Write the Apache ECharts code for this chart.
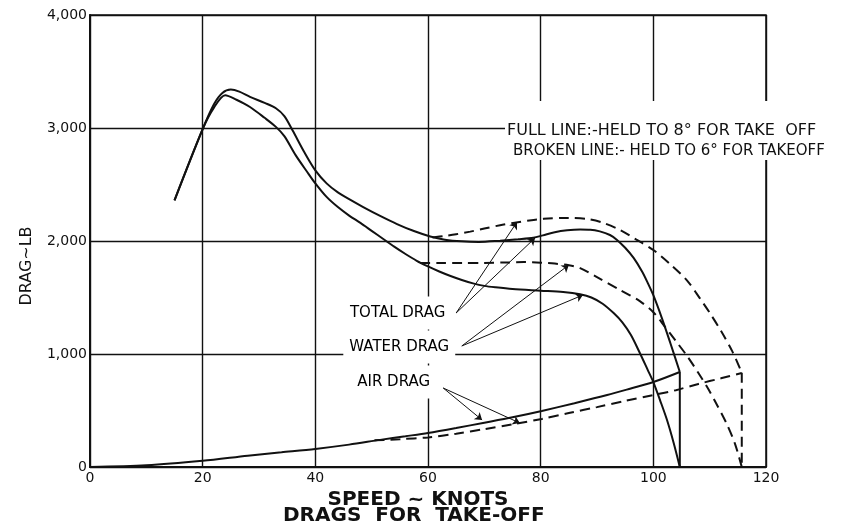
<!DOCTYPE html>
<html>
<head>
<meta charset="utf-8">
<script src="https://cdn.jsdelivr.net/npm/echarts@6/dist/echarts.min.js"></script>
<style>
html,body{margin:0;padding:0;background:#fff;}
#chart{width:857px;height:528px;}
</style>
</head>
<body>
<div id="chart"></div>
<script>
// ---- data (speed in knots, drag in lb) ----
const xTicks = [0, 20, 40, 60, 80, 100, 120];
const yTickLabels = ['0', '1,000', '2,000', '3,000', '4,000'];

// Full line: held to 8 deg for take off
const totalDragFull = [[15,2360],[20,2990],[22,3210],[23.5,3310],[25,3340],[26.5,3322],[28.4,3276],[31,3222],[33,3175],[34.5,3105],[36,2975],[38,2790],[40,2625],[42,2510],[44,2430],[46,2370],[48.5,2300],[51.5,2222],[54.5,2150],[57.5,2088],[60.4,2040],[63,2012],[66,1997],[69,1992],[72.8,2003],[76,2015],[78.7,2028],[80.4,2050],[82.5,2078],[84.7,2095],[87,2102],[88.8,2100],[90.5,2085],[92.3,2053],[93.5,2012],[95,1940],[96.5,1850],[98,1730],[99,1630],[100,1520],[101.5,1320],[103,1100],[104.7,841]];
const waterDragFull = [[15,2360],[20,2990],[22,3180],[24,3290],[26,3250],[28.4,3186],[31,3090],[33,3010],[34.5,2928],[36.5,2760],[38.5,2615],[40,2510],[42,2390],[44,2300],[46,2225],[48,2160],[50,2090],[52,2020],[54,1950],[56,1885],[58,1825],[60,1775],[62,1730],[64,1690],[66,1655],[68,1625],[70,1603],[72,1590],[75,1575],[80,1560],[84,1548],[87,1528],[89,1500],[91,1445],[93,1360],[94.5,1280],[96,1170],[97.5,1020],[99,860],[100,752],[101.2,590],[102.4,420],[103.6,215],[104.7,0]];
const airDragFull = [[0,0],[10,15],[20,55],[28,100],[34,130],[40,160],[46,198],[51.5,240],[56,272],[60,301],[65,345],[70,392],[75,440],[80.2,496],[86,565],[91.8,637],[96,695],[100,752],[104.7,841]];
const takeOffFull = [[104.7,841],[104.7,0]];

// Broken line: held to 6 deg for take off
const totalDragBroken = [[60.8,2032],[63,2045],[65,2060],[67.5,2083],[70,2110],[72.8,2140],[75.1,2160],[78,2182],[80.5,2196],[84.7,2204],[88.2,2195],[91,2162],[94.1,2097],[97,2012],[100,1920],[103,1795],[106,1650],[108.3,1490],[110,1365],[112,1205],[114,1025],[115.7,835]];
const waterDragBroken = [[58.6,1805],[62,1805],[66,1805],[70,1806],[74,1810],[77,1814],[80,1808],[82.5,1800],[85,1785],[87,1760],[90,1680],[94.1,1566],[97.6,1468],[100,1370],[102,1245],[104,1115],[106,982],[108,832],[109.5,712],[111,578],[113,385],[114.5,205],[115.7,0]];
const airDragBroken = [[50.5,236],[55,246],[60,262],[65,295],[70,335],[75,378],[80.2,425],[85,478],[90,530],[95,585],[100,637],[104,680],[108,735],[112,785],[115.7,832]];
const takeOffBroken = [[115.7,835],[115.7,0]];

// Annotation labels and leader arrows (data coordinates)
const annotationLabels = [
  {name:'TOTAL DRAG', value:[54.6,1363]},
  {name:'WATER DRAG', value:[54.9,1062]},
  {name:'AIR DRAG', value:[53.9,752]}
];
const leaderArrows = [
  [[65.0,1363],[75.8,2168]],
  [[65.0,1363],[79.0,2027]],
  [[66.0,1071],[85.0,1788]],
  [[66.0,1071],[87.5,1522]],
  [[62.7,699],[69.6,416]],
  [[62.7,699],[76.3,389]]
];
const legendLines = ['FULL LINE:-HELD TO 8\u00B0 FOR TAKE  OFF', 'BROKEN LINE:- HELD TO 6\u00B0 FOR TAKEOFF'];

// ---- chart ----
const FONT = 'DejaVu Sans';
const INK = '#111';
const chart = echarts.init(document.getElementById('chart'), null, {renderer:'canvas'});

function curve(data, dashed, smooth){
  return {
    type:'line', data:data, showSymbol:false, symbol:'none', smooth:smooth,
    lineStyle:{color:INK, width:2, type: dashed ? [10,6] : 'solid'},
    silent:true, z:3
  };
}

const series = [
  curve(totalDragFull,false,0.3),
  curve(waterDragFull,false,0.3),
  curve(airDragFull,false,0.3),
  curve(takeOffFull,false,false),
  curve(totalDragBroken,true,0.3),
  curve(waterDragBroken,true,0.3),
  curve(airDragBroken,true,0.3),
  curve(takeOffBroken,true,false),
  {
    type:'scatter', data:annotationLabels, symbolSize:0, silent:true, z:4,
    itemStyle:{opacity:1},
    label:{show:true, position:'inside', formatter:'{b}', color:'#000', opacity:1, fontFamily:FONT, fontSize:15,
      backgroundColor:'#fff', padding:[9,6]},
    markLine:{
      silent:true, symbol:['none','arrow'], symbolSize:7, animation:false,
      label:{show:false},
      lineStyle:{color:INK, width:1, type:'solid', opacity:1},
      data: leaderArrows.map(a => [{coord:a[0]},{coord:a[1]}])
    }
  }
];

chart.setOption({
  animation:false,
  backgroundColor:'#fff',
  title:{
    text:'DRAGS  FOR  TAKE-OFF', left:283, top:506, padding:0,
    textStyle:{fontFamily:FONT, fontSize:20, fontWeight:'bold', color:INK}
  },
  grid:{left:90, right:91, top:15, bottom:61, show:true, borderColor:INK, borderWidth:1.5, backgroundColor:'transparent'},
  xAxis:{
    type:'value', min:0, max:120, interval:20,
    name:'SPEED ~ KNOTS', nameLocation:'middle', nameGap:12,
    nameTextStyle:{fontFamily:FONT, fontSize:20, fontWeight:'bold', color:INK, padding:[0,20,0,0]},
    axisLine:{show:true, lineStyle:{color:INK, width:2}},
    axisTick:{show:false},
    axisLabel:{color:INK, fontFamily:FONT, fontSize:14, margin:4,
      formatter: v => xTicks.indexOf(v) >= 0 ? String(v) : ''},
    splitLine:{show:true, lineStyle:{color:INK, width:1.4}}
  },
  yAxis:{
    type:'value', min:0, max:4000, interval:1000,
    name:'DRAG~LB', nameLocation:'middle', nameGap:55, nameRotate:90,
    nameTextStyle:{fontFamily:FONT, fontSize:16, color:INK, padding:[0,50,0,0]},
    axisLine:{show:true, lineStyle:{color:INK, width:2}},
    axisTick:{show:false},
    axisLabel:{color:INK, fontFamily:FONT, fontSize:14, margin:3,
      formatter: v => yTickLabels[Math.round(v/1000)]},
    splitLine:{show:true, lineStyle:{color:INK, width:1.4}}
  },
  graphic:[
    {type:'rect', z:5, shape:{x:505, y:101, width:352, height:59}, style:{fill:'#fff'}},
    {type:'text', z:6, left:507, top:123, style:{text:legendLines[0], font:'16px "DejaVu Sans"', fill:INK}},
    {type:'text', z:6, left:513, top:144, style:{text:legendLines[1], font:'15px "DejaVu Sans"', fill:INK}}
  ],
  series:series
});
</script>
</body>
</html>
